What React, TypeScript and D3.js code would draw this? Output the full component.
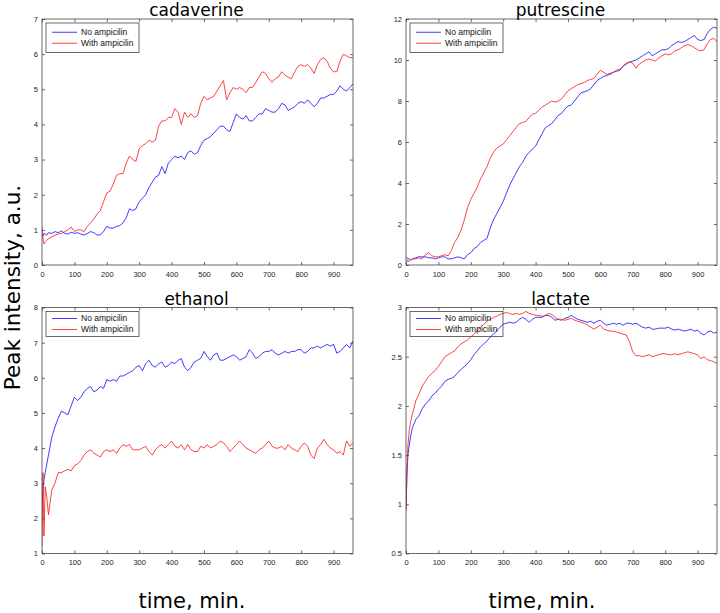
import * as d3 from "d3";
import React, { useRef, useEffect } from "react";

// sampling times, minutes
const times = [
  0, 3, 6, 10, 15, 20, 30, 40, 50, 60,
  70, 80, 90, 100, 110, 120, 130, 140, 150, 160,
  170, 180, 190, 200, 210, 220, 230, 240, 250, 260,
  270, 280, 290, 300, 310, 320, 330, 340, 350, 360,
  370, 380, 390, 400, 410, 420, 430, 440, 450, 460,
  470, 480, 490, 500, 510, 520, 530, 540, 550, 560,
  570, 580, 590, 600, 610, 620, 630, 640, 650, 660,
  670, 680, 690, 700, 710, 720, 730, 740, 750, 760,
  770, 780, 790, 800, 810, 820, 830, 840, 850, 860,
  870, 880, 890, 900, 910, 920, 930, 940, 950, 960,
];

const cadaverineNo = [
  0.85, 0.82, 0.9, 0.88, 0.85, 0.92, 0.9, 0.95, 0.92, 0.97,
  0.9, 0.88, 0.93, 0.9, 0.92, 0.88, 0.85, 0.9, 0.95, 0.92,
  0.85, 0.86, 0.95, 1.1, 1.05, 1.05, 1.1, 1.12, 1.2, 1.35,
  1.6, 1.55, 1.6, 1.8, 1.9, 2.0, 2.2, 2.35, 2.5, 2.55,
  2.8, 2.6, 2.9, 3.0, 3.1, 3.05, 3.1, 3.0, 3.2, 3.25,
  3.15, 3.2, 3.4, 3.55, 3.6, 3.65, 3.75, 3.85, 3.95, 3.95,
  3.85, 3.8, 4.05, 4.3, 4.2, 4.15, 4.25, 4.1, 4.1, 4.2,
  4.3, 4.3, 4.45, 4.4, 4.35, 4.35, 4.45, 4.6, 4.55, 4.4,
  4.45, 4.5, 4.6, 4.65, 4.6, 4.7, 4.6, 4.5, 4.6, 4.75,
  4.75, 4.8, 4.85, 4.85, 4.95, 5.1, 5.0, 4.95, 5.05, 5.15,
];
const cadaverineWith = [
  1.1, 0.75, 0.6, 0.65, 0.7, 0.75, 0.8, 0.85, 0.88, 0.9,
  0.95, 1.0, 1.08, 0.95, 1.0, 1.0, 0.95, 1.1, 1.2, 1.3,
  1.45, 1.55, 1.8, 2.05, 2.1, 2.3, 2.55, 2.6, 2.6, 2.9,
  3.1, 3.0, 2.95, 3.3, 3.4, 3.45, 3.55, 3.5, 3.55, 3.95,
  4.1, 4.1, 4.2, 4.2, 4.45, 4.35, 4.0, 4.35, 4.2, 4.3,
  4.2, 4.25, 4.6, 4.8, 4.7, 4.75, 4.8, 4.95, 5.1, 5.25,
  4.7, 4.9, 5.05, 5.0, 5.05, 5.0, 4.9, 5.05, 5.05, 5.2,
  5.35, 5.5, 5.45, 5.3, 5.2, 5.3, 5.35, 5.5, 5.4, 5.35,
  5.3, 5.5, 5.65, 5.7, 5.65, 5.7, 5.6, 5.45, 5.7, 5.85,
  5.9, 5.8, 5.6, 5.5, 5.5, 5.8, 6.0, 5.95, 5.9, 5.9,
];

const putrescineNo = [
  0.4, 0.35, 0.3, 0.3, 0.25, 0.3, 0.35, 0.4, 0.4, 0.4,
  0.35, 0.35, 0.3, 0.35, 0.4, 0.4, 0.3, 0.3, 0.35, 0.4,
  0.35, 0.3, 0.5, 0.6, 0.8, 0.9, 1.1, 1.2, 1.3, 1.8,
  2.2, 2.5, 2.8, 3.1, 3.5, 3.9, 4.2, 4.5, 4.8, 5.0,
  5.3, 5.5, 5.65, 5.8, 6.1, 6.4, 6.7, 6.8, 6.9, 7.1,
  7.3, 7.4, 7.6, 7.75, 7.8, 8.0, 8.2, 8.4, 8.45, 8.5,
  8.6, 8.8, 9.0, 9.1, 9.2, 9.25, 9.3, 9.4, 9.45, 9.5,
  9.7, 9.8, 9.9, 9.95, 10.0, 10.1, 10.2, 10.3, 10.4, 10.2,
  10.3, 10.4, 10.5, 10.5, 10.55, 10.7, 10.8, 10.9, 10.85, 10.9,
  11.0, 11.1, 11.2, 11.0, 10.95, 11.0, 11.3, 11.5, 11.6, 11.55,
];
const putrescineWith = [
  0.2, 0.25, 0.15, 0.2, 0.25, 0.3, 0.3, 0.35, 0.3, 0.5,
  0.6, 0.45, 0.4, 0.4, 0.45, 0.5, 0.45, 0.7, 1.1, 1.35,
  1.7, 2.2, 2.8, 3.2, 3.5, 3.8, 4.2, 4.5, 4.8, 5.2,
  5.5, 5.7, 5.8, 5.9, 6.1, 6.3, 6.5, 6.7, 6.9, 6.95,
  7.0, 7.2, 7.35, 7.4, 7.55, 7.7, 7.8, 7.9, 8.0, 7.95,
  8.0, 8.1, 8.3, 8.5, 8.6, 8.7, 8.8, 8.85, 8.9, 9.0,
  9.05, 9.1, 9.3, 9.5, 9.4, 9.3, 9.35, 9.4, 9.5, 9.55,
  9.7, 9.85, 9.9, 9.85, 9.6, 9.8, 9.9, 10.0, 10.05, 10.0,
  9.95, 10.1, 10.2, 10.3, 10.25, 10.3, 10.45, 10.5, 10.6, 10.7,
  10.75, 10.7, 10.6, 10.5, 10.45, 10.5, 10.8, 11.0, 11.05, 10.9,
];

const ethanolNo = [
  2.4, 2.8, 3.1, 3.3, 3.55, 3.8, 4.3, 4.6, 4.85, 5.05,
  5.0, 4.95, 5.2, 5.45, 5.35, 5.45, 5.6, 5.7, 5.75, 5.6,
  5.65, 5.75, 5.7, 5.95, 5.9, 5.95, 5.9, 6.05, 6.05, 6.1,
  6.15, 6.2, 6.3, 6.35, 6.2, 6.4, 6.5, 6.35, 6.3, 6.4,
  6.45, 6.3, 6.35, 6.45, 6.4, 6.5, 6.55, 6.3, 6.2, 6.3,
  6.45, 6.5, 6.55, 6.75, 6.6, 6.5, 6.65, 6.7, 6.5, 6.5,
  6.55, 6.6, 6.65, 6.6, 6.5, 6.55, 6.6, 6.8, 6.7, 6.55,
  6.6, 6.7, 6.75, 6.75, 6.8, 6.7, 6.65, 6.7, 6.75, 6.7,
  6.75, 6.75, 6.8, 6.8, 6.7, 6.75, 6.85, 6.85, 6.9, 6.85,
  6.9, 6.95, 6.9, 6.95, 6.7, 6.75, 6.85, 6.95, 6.85, 7.05,
];
const ethanolWith = [
  1.2, 3.3, 1.5, 2.9, 2.6, 2.1, 2.8, 3.0, 3.3, 3.3,
  3.35, 3.4, 3.35, 3.5, 3.55, 3.65, 3.8, 3.9, 3.95, 3.85,
  3.8, 3.75, 3.9, 3.95, 3.9, 3.95, 3.85, 4.0, 4.1, 4.05,
  4.1, 3.95, 3.95, 3.95, 4.0, 4.05, 3.9, 3.8, 3.95, 4.05,
  4.1, 4.0, 4.1, 4.2, 4.05, 4.0, 4.1, 3.95, 4.1, 3.95,
  3.9, 3.9, 4.05, 4.0, 4.1, 4.0, 4.05, 4.1, 4.2, 4.15,
  4.05, 3.9, 4.0, 4.1, 4.2, 4.1, 4.0, 3.95, 3.9, 3.85,
  3.95, 4.0, 4.1, 4.2, 4.05, 4.0, 4.0, 4.05, 3.95, 4.1,
  4.0, 3.95, 3.9, 4.05, 4.15, 4.05, 3.8, 3.7, 4.0, 4.1,
  4.25, 4.1, 4.0, 3.95, 3.85, 3.9, 3.8, 4.2, 4.05, 4.15,
];

const lactateNo = [
  0.95, 1.3, 1.5, 1.6, 1.7, 1.78, 1.86, 1.9, 1.97, 2.02,
  2.05, 2.1, 2.13, 2.17, 2.2, 2.25, 2.27, 2.28, 2.3, 2.34,
  2.37, 2.4, 2.43, 2.47, 2.52, 2.56, 2.6, 2.63, 2.66, 2.7,
  2.73, 2.76, 2.8, 2.83, 2.84, 2.85, 2.84, 2.85, 2.88, 2.9,
  2.88, 2.85, 2.88, 2.9, 2.9, 2.9, 2.92, 2.92, 2.9, 2.87,
  2.88, 2.87, 2.89, 2.9, 2.92, 2.9, 2.88, 2.87, 2.86, 2.85,
  2.86, 2.84, 2.86, 2.87, 2.84, 2.82, 2.83, 2.84, 2.83, 2.84,
  2.82, 2.84, 2.84, 2.83, 2.84, 2.82, 2.8, 2.79, 2.8, 2.78,
  2.78, 2.79, 2.79, 2.79, 2.8, 2.78, 2.77, 2.78, 2.77, 2.76,
  2.77, 2.78, 2.76, 2.77, 2.74, 2.72, 2.75, 2.76, 2.74, 2.75,
];
const lactateWith = [
  0.93, 1.35, 1.6, 1.75, 1.85, 1.92, 2.05, 2.12, 2.2, 2.25,
  2.3, 2.33, 2.36, 2.4, 2.45, 2.5, 2.52, 2.54, 2.56, 2.6,
  2.63, 2.65, 2.67, 2.7, 2.73, 2.77, 2.8, 2.83, 2.86, 2.88,
  2.9, 2.91, 2.93, 2.94, 2.95, 2.94, 2.93, 2.94, 2.93, 2.94,
  2.96, 2.94, 2.93, 2.92, 2.92, 2.91, 2.92, 2.94, 2.93, 2.9,
  2.88, 2.88, 2.87, 2.88, 2.89, 2.87, 2.86, 2.85, 2.84, 2.82,
  2.8, 2.78, 2.8, 2.82, 2.78, 2.77, 2.76, 2.76, 2.75, 2.74,
  2.73, 2.72, 2.65, 2.55, 2.51, 2.51, 2.5, 2.51, 2.52, 2.5,
  2.51, 2.52, 2.53, 2.53, 2.52, 2.52, 2.53, 2.52, 2.53, 2.54,
  2.55, 2.54, 2.53, 2.52, 2.48, 2.5, 2.47, 2.46, 2.45, 2.43,
];

const xTicks = [0, 100, 200, 300, 400, 500, 600, 700, 800, 900];
const cadaverineTicks = [0, 1, 2, 3, 4, 5, 6, 7];
const putrescineTicks = [0, 2, 4, 6, 8, 10, 12];
const ethanolTicks = [1, 2, 3, 4, 5, 6, 7, 8];
const lactateTicks = [0.5, 1, 1.5, 2, 2.5, 3];
const seriesNames = ["No ampicilin", "With ampicilin"];
const seriesColors = ["#1a1aff", "#ff2020"];

const panels = [
  { title: "cadaverine", series: [cadaverineNo, cadaverineWith], yTicks: cadaverineTicks, left: 42, top: 19, legendH: 29.5 },
  { title: "putrescine", series: [putrescineNo, putrescineWith], yTicks: putrescineTicks, left: 406, top: 19, legendH: 29.5 },
  { title: "ethanol", series: [ethanolNo, ethanolWith], yTicks: ethanolTicks, left: 42, top: 307.5, legendH: 25 },
  { title: "lactate", series: [lactateNo, lactateWith], yTicks: lactateTicks, left: 406, top: 307.5, legendH: 25 },
];

const width = 720;
const height = 613;
const panelW = 311;
const panelH = 246;
const tickFont = "'Liberation Sans', Arial, Helvetica, sans-serif";
const labelFont = "'DejaVu Sans', Verdana, sans-serif";

function App() {
  const ref = useRef(null);

  useEffect(() => {
    const svg = d3.select(ref.current);
    svg.selectAll("*").remove();

    const styleAxis = (sel) => {
      sel.select(".domain").remove();
      sel.selectAll("line").attr("stroke", "#444").attr("stroke-width", 0.8);
      sel.selectAll("text")
        .attr("font-family", tickFont)
        .attr("font-size", 7.5)
        .attr("fill", "#222");
    };

    panels.forEach((p, pi) => {
      const x = d3.scaleLinear().domain([0, 960]).range([0, panelW]);
      const y = d3.scaleLinear()
        .domain([p.yTicks[0], p.yTicks[p.yTicks.length - 1]])
        .range([panelH, 0]);

      const g = svg.append("g").attr("transform", `translate(${p.left},${p.top})`);

      g.append("rect")
        .attr("width", panelW)
        .attr("height", panelH)
        .attr("fill", "white");

      g.append("clipPath")
        .attr("id", `clip${pi}`)
        .append("rect")
        .attr("width", panelW)
        .attr("height", panelH);

      const line = d3.line()
        .x((d) => x(d[0]))
        .y((d) => y(d[1]));

      p.series.forEach((vals, si) => {
        const pts = times.slice(0, vals.length).map((t, i) => [t, vals[i]]);
        g.append("path")
          .datum(pts)
          .attr("clip-path", `url(#clip${pi})`)
          .attr("fill", "none")
          .attr("stroke", seriesColors[si])
          .attr("stroke-width", 0.85)
          .attr("stroke-linejoin", "round")
          .attr("d", line);
      });

      // MATLAB style box with inward ticks on all sides
      g.append("g")
        .attr("transform", `translate(0,${panelH})`)
        .call(d3.axisBottom(x).tickValues(xTicks).tickSize(-3).tickPadding(6.5).tickFormat((d) => String(d)))
        .call(styleAxis);
      g.append("g")
        .call(d3.axisTop(x).tickValues(xTicks).tickSize(-3).tickFormat(() => ""))
        .call(styleAxis);
      g.append("g")
        .call(d3.axisLeft(y).tickValues(p.yTicks).tickSize(-3).tickPadding(4).tickFormat((d) => String(d)))
        .call(styleAxis);
      g.append("g")
        .attr("transform", `translate(${panelW},0)`)
        .call(d3.axisRight(y).tickValues(p.yTicks).tickSize(-3).tickFormat(() => ""))
        .call(styleAxis);

      g.append("rect")
        .attr("width", panelW)
        .attr("height", panelH)
        .attr("fill", "none")
        .attr("stroke", "#444")
        .attr("stroke-width", 0.8);

      // legend
      const lg = g.append("g").attr("transform", `translate(4,4)`);
      lg.append("rect")
        .attr("width", 93)
        .attr("height", p.legendH)
        .attr("fill", "none")
        .attr("stroke", "#444")
        .attr("stroke-width", 0.8);
      const pad = (p.legendH - 11) / 2;
      seriesNames.forEach((name, si) => {
        const ry = pad + si * 11;
        lg.append("line")
          .attr("x1", 6)
          .attr("x2", 31)
          .attr("y1", ry)
          .attr("y2", ry)
          .attr("stroke", seriesColors[si])
          .attr("stroke-width", 0.85);
        lg.append("text")
          .attr("x", 35)
          .attr("y", ry)
          .attr("dy", "0.35em")
          .attr("font-family", tickFont)
          .attr("font-size", 8.5)
          .attr("fill", "#111")
          .text(name);
      });

      g.append("text")
        .attr("x", panelW / 2 - 1)
        .attr("y", -3)
        .attr("text-anchor", "middle")
        .attr("font-family", labelFont)
        .attr("font-size", 17)
        .attr("fill", "#000")
        .text(p.title);
    });

    svg.append("text")
      .attr("transform", "translate(20,287.5) rotate(-90)")
      .attr("text-anchor", "middle")
      .attr("font-family", labelFont)
      .attr("font-size", 21.5)
      .attr("fill", "#000")
      .text("Peak intensity, a.u.");

    [192, 542].forEach((cx) => {
      svg.append("text")
        .attr("x", cx)
        .attr("y", 608)
        .attr("text-anchor", "middle")
        .attr("font-family", labelFont)
        .attr("font-size", 21)
        .attr("fill", "#000")
        .text("time, min.");
    });
  }, []);

  return (
    <svg
      ref={ref}
      width={width}
      height={height}
      style={{ position: "absolute", left: 0, top: 0, background: "white" }}
    ></svg>
  );
}

export default App;
